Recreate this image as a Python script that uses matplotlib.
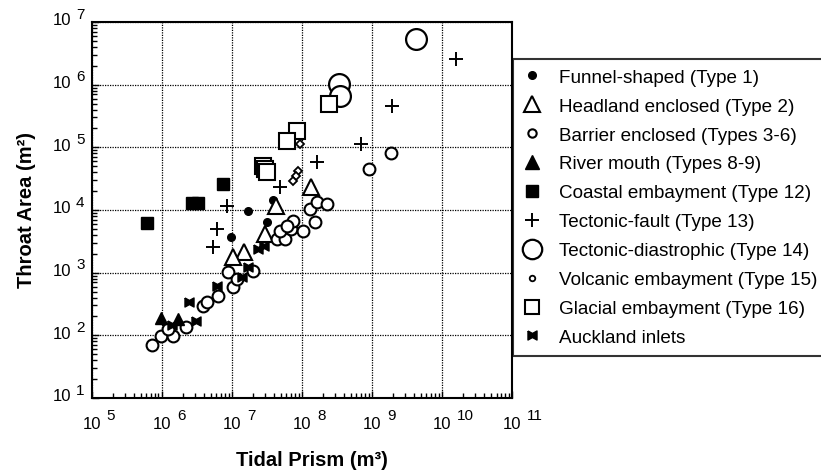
import matplotlib
matplotlib.use("Agg")
import matplotlib.pyplot as plt
from matplotlib.lines import Line2D

plt.rcParams['font.family'] = ['Liberation Sans', 'DejaVu Sans']

# tidal prism (m3) and throat area (m2) per inlet type
funnel_p = [1.72e7, 3.9e7, 3.2e7, 9.8e6]
funnel_a = [9640, 14400, 6430, 3710]

headland_p = [1.37e8, 4.3e7, 3.0e7, 1.5e7, 1.05e7]
headland_a = [23300, 11600, 4140, 2140, 1780]

barrier_p = [7.3e5, 9.8e5, 1.46e6, 1.24e6, 2.24e6, 3.9e6, 4.5e6, 6.4e6, 1.05e7,
             8.9e6, 1.2e7, 2.03e7, 4.5e7, 5.8e7, 4.9e7, 6.9e7, 7.6e7, 6.2e7,
             1.05e8, 1.32e8, 1.66e8, 2.31e8, 1.56e8, 9.2e8, 1.9e9]
barrier_a = [70, 98, 98, 126, 136, 294, 340, 425, 590,
             1020, 790, 1060, 3440, 3440, 4600, 4980, 6700, 5560,
             4620, 10400, 13400, 12500, 6430, 45100, 81200]

river_p = [9.8e5, 1.72e6]
river_a = [190, 182]

coastal_p = [6.2e5, 2.73e6, 3.3e6, 7.6e6]
coastal_a = [6200, 12900, 12900, 26000]

fault_p = [1.6e10, 1.96e9, 6.9e8, 1.66e8, 4.9e7, 8.6e6, 6.2e6, 5.4e6]
fault_a = [2.57e6, 4.6e5, 1.13e5, 58300, 23300, 11600, 4980, 2570]

diastro_p = [4.2e9, 3.4e8, 3.55e8]
diastro_a = [5.35e6, 1.02e6, 6.6e5]

volcanic_p = [9.5e7, 8.9e7, 8.3e7, 7.6e7]
volcanic_a = [1.13e5, 41900, 34800, 29000]

glacial_p = [2.47e8, 8.6e7, 6.2e7, 2.8e7, 3.0e7, 3.2e7]
glacial_a = [4.9e5, 1.82e5, 1.26e5, 50400, 45100, 40400]

auckland_p = [2.47e6, 3.1e6, 6.2e6, 1.41e7, 2.4e7, 2.9e7, 1.72e7, 1.41e6]
auckland_a = [340, 170, 610, 850, 2390, 2660, 1230, 146]

labels = ['Funnel-shaped (Type 1)', 'Headland enclosed (Type 2)',
          'Barrier enclosed (Types 3-6)', 'River mouth (Types 8-9)',
          'Coastal embayment (Type 12)', 'Tectonic-fault (Type 13)',
          'Tectonic-diastrophic (Type 14)', 'Volcanic embayment (Type 15)',
          'Glacial embayment (Type 16)', 'Auckland inlets']

bowtie = [(-1, 1), (0, 0.45), (1, 1), (1, -1), (0, -0.45), (-1, -1), (-1, 1)]

fig = plt.figure(figsize=(8.21, 4.77), dpi=100)
ax = fig.add_axes([0.1115, 0.1635, 0.5122, 0.7883])

series = [
    (funnel_p, funnel_a, dict(marker='o', ms=5.5, mfc='k', mec='k')),
    (headland_p, headland_a, dict(marker='^', ms=11, mfc='white', mec='k', mew=1.5)),
    (barrier_p, barrier_a, dict(marker='o', ms=8.5, mfc='white', mec='k', mew=1.5)),
    (river_p, river_a, dict(marker='^', ms=9, mfc='k', mec='k')),
    (coastal_p, coastal_a, dict(marker='s', ms=8.5, mfc='k', mec='k')),
    (fault_p, fault_a, dict(marker='+', ms=10, mec='k', mew=1.4)),
    (diastro_p, diastro_a, dict(marker='o', ms=15, mfc='white', mec='k', mew=1.6)),
    (volcanic_p, volcanic_a, dict(marker='D', ms=4.5, mfc='white', mec='k', mew=1.3)),
    (glacial_p, glacial_a, dict(marker='s', ms=11, mfc='white', mec='k', mew=1.5)),
    (auckland_p, auckland_a, dict(marker=bowtie, ms=6.5, mfc='k', mec='k')),
]

# legend symbols are drawn a little different from the plot symbols
legend_ms = {'Barrier': 6, 'Tectonic-diastrophic': 14, 'Volcanic': 4,
             'Headland': 12, 'River': 10.5, 'Glacial': 10.5}

handles = []
for (p, a, st), lab in zip(series, labels):
    ax.plot(p, a, ls='none', zorder=3, **st)
    hst = dict(st)
    for key, ms in legend_ms.items():
        if lab.startswith(key):
            hst['ms'] = ms
    if lab.startswith('Volcanic'):
        hst['marker'] = 'o'
    handles.append(Line2D([], [], ls='none', **hst))

ax.set_xscale('log')
ax.set_yscale('log')
ax.set_xlim(1e5, 1e11)
ax.set_ylim(1e1, 1e7)
ax.grid(True, which='major', color='k', ls=(0, (1, 1)), lw=0.9)
ax.set_axisbelow(True)
ax.tick_params(which='both', direction='in', top=False, right=False,
               labelbottom=False, labelleft=False, color='k')
ax.tick_params(which='major', length=5, width=1)
ax.tick_params(which='minor', length=3.5, width=1)
for s in ax.spines.values():
    s.set_linewidth(1.5)

# tick labels drawn as "10" with a large exponent, like the original
for d in range(5, 12):
    ax.annotate('10', xy=(10.0 ** d, 0), xycoords=('data', 'axes fraction'),
                xytext=(0, -13), textcoords='offset points', ha='center', va='top',
                fontsize=12, annotation_clip=False)
    ax.annotate(str(d), xy=(10.0 ** d, 0), xycoords=('data', 'axes fraction'),
                xytext=(11, -7.5), textcoords='offset points', ha='left', va='top',
                fontsize=11, annotation_clip=False)
for d in range(1, 8):
    ax.annotate('10', xy=(0, 10.0 ** d), xycoords=('axes fraction', 'data'),
                xytext=(-14.5, 1.5), textcoords='offset points', ha='right', va='center',
                fontsize=12, annotation_clip=False)
    ax.annotate(str(d), xy=(0, 10.0 ** d), xycoords=('axes fraction', 'data'),
                xytext=(-5, 6), textcoords='offset points', ha='right', va='center',
                fontsize=11, annotation_clip=False)

fig.text(312 / 821, 1 - 466 / 477, 'Tidal Prism (m³)', ha='center', va='baseline',
         fontsize=14.5, fontweight='bold')
fig.text(27 / 821, 1 - 210 / 477, 'Throat Area (m²)', ha='center', va='center',
         fontsize=14.5, fontweight='bold', rotation=90)

leg = fig.legend(handles, labels, loc='upper left', bbox_to_anchor=(513 / 821, 1 - 60 / 477),
                 borderaxespad=0, fontsize=13.6, frameon=True, fancybox=False,
                 handlelength=0.98, handletextpad=0.98, borderpad=0.5,
                 labelspacing=0.62)
leg.get_frame().set_edgecolor('k')
leg.get_frame().set_linewidth(1.5)

fig.savefig('out.png', dpi=100)
